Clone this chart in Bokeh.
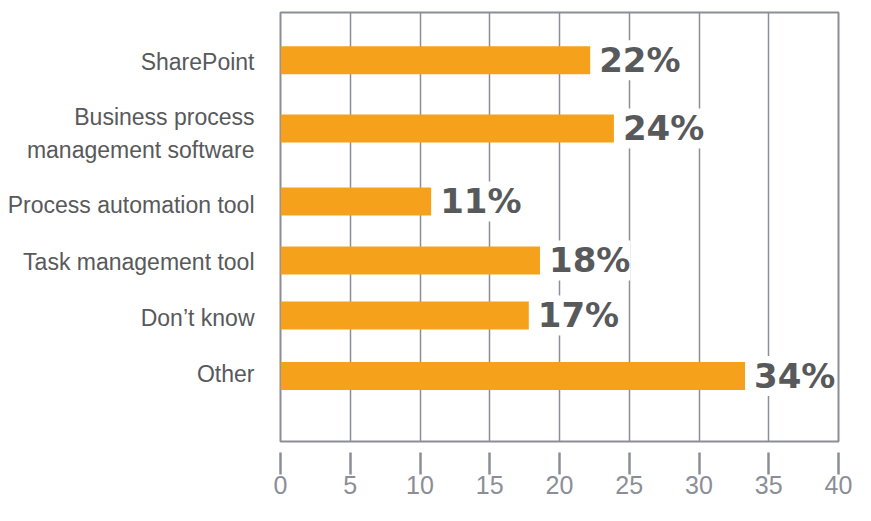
from bokeh.plotting import figure
from bokeh.models import Range1d, FixedTicker, ColumnDataSource
from bokeh.embed import file_html
from bokeh.resources import INLINE
from bokeh.core.properties import value

# ---- data ----
categories = [
    "SharePoint",
    "Business process\nmanagement software",
    "Process automation tool",
    "Task management tool",
    "Don\u2019t know",
    "Other",
]
bar_values = [22.2, 23.9, 10.8, 18.6, 17.8, 33.3]
value_labels = ["22%", "24%", "11%", "18%", "17%", "34%"]
x_ticks = [0, 5, 10, 15, 20, 25, 30, 35, 40]
grid_ticks = [5, 10, 15, 20, 25, 30, 35]

# ---- layout (vertical positions in screen pixels from the top) ----
row_centers = [59.7, 127.9, 200.9, 259.9, 314.9, 375.5]
label_centers = [61.0, 133.0, 204.0, 261.0, 317.0, 373.0]

BAR = "#F5A11C"
DARK = "#58595b"
GRID = "#8b8e97"
FONT = "Liberation Sans"

src = ColumnDataSource(dict(y=row_centers, v=bar_values, lbl=value_labels))

p = figure(width=855, height=505, output_backend="svg", toolbar_location=None,
           x_range=Range1d(0, 40), y_range=Range1d(441, 12),
           min_border_left=280, min_border_right=17, min_border_top=12,
           min_border_bottom=64)
p.background_fill_color = "white"
p.border_fill_color = "white"
p.outline_line_color = GRID
p.outline_line_width = 2

p.hbar(y="y", left=0, right="v", height=28, color=BAR, line_color=None, source=src)
p.text(x="v", y="y", text="lbl", source=src, x_offset=9,
       text_baseline="middle", text_align="left",
       text_font=value("DejaVu Sans"), text_font_style="bold", text_font_size="34px",
       text_color=DARK, background_fill_color="white")

p.xgrid.ticker = FixedTicker(ticks=grid_ticks)
p.xgrid.grid_line_color = GRID
p.xgrid.grid_line_width = 1.5
p.ygrid.visible = False

# category axis on the left
yax = p.yaxis[0]
yax.ticker = FixedTicker(ticks=label_centers)
yax.major_label_overrides = {c: t for c, t in zip(label_centers, categories)}
yax.axis_line_color = None
yax.major_tick_line_color = None
yax.minor_tick_line_color = None
yax.major_label_standoff = 20
yax.major_label_text_font = FONT
yax.major_label_text_font_size = "23px"
yax.major_label_text_color = DARK
yax.major_label_text_align = "right"
yax.major_label_text_line_height = 1.3

# numeric axis below
ax = p.xaxis[0]
ax.ticker = FixedTicker(ticks=x_ticks)
ax.axis_line_color = None
ax.major_tick_line_color = GRID
ax.major_tick_line_width = 2.5
ax.major_tick_in = -11
ax.major_tick_out = 33
ax.minor_tick_line_color = None
ax.major_label_standoff = 1
ax.major_label_text_font = FONT
ax.major_label_text_font_size = "25px"
ax.major_label_text_color = GRID

open("out.html", "w").write(file_html(p, INLINE))
